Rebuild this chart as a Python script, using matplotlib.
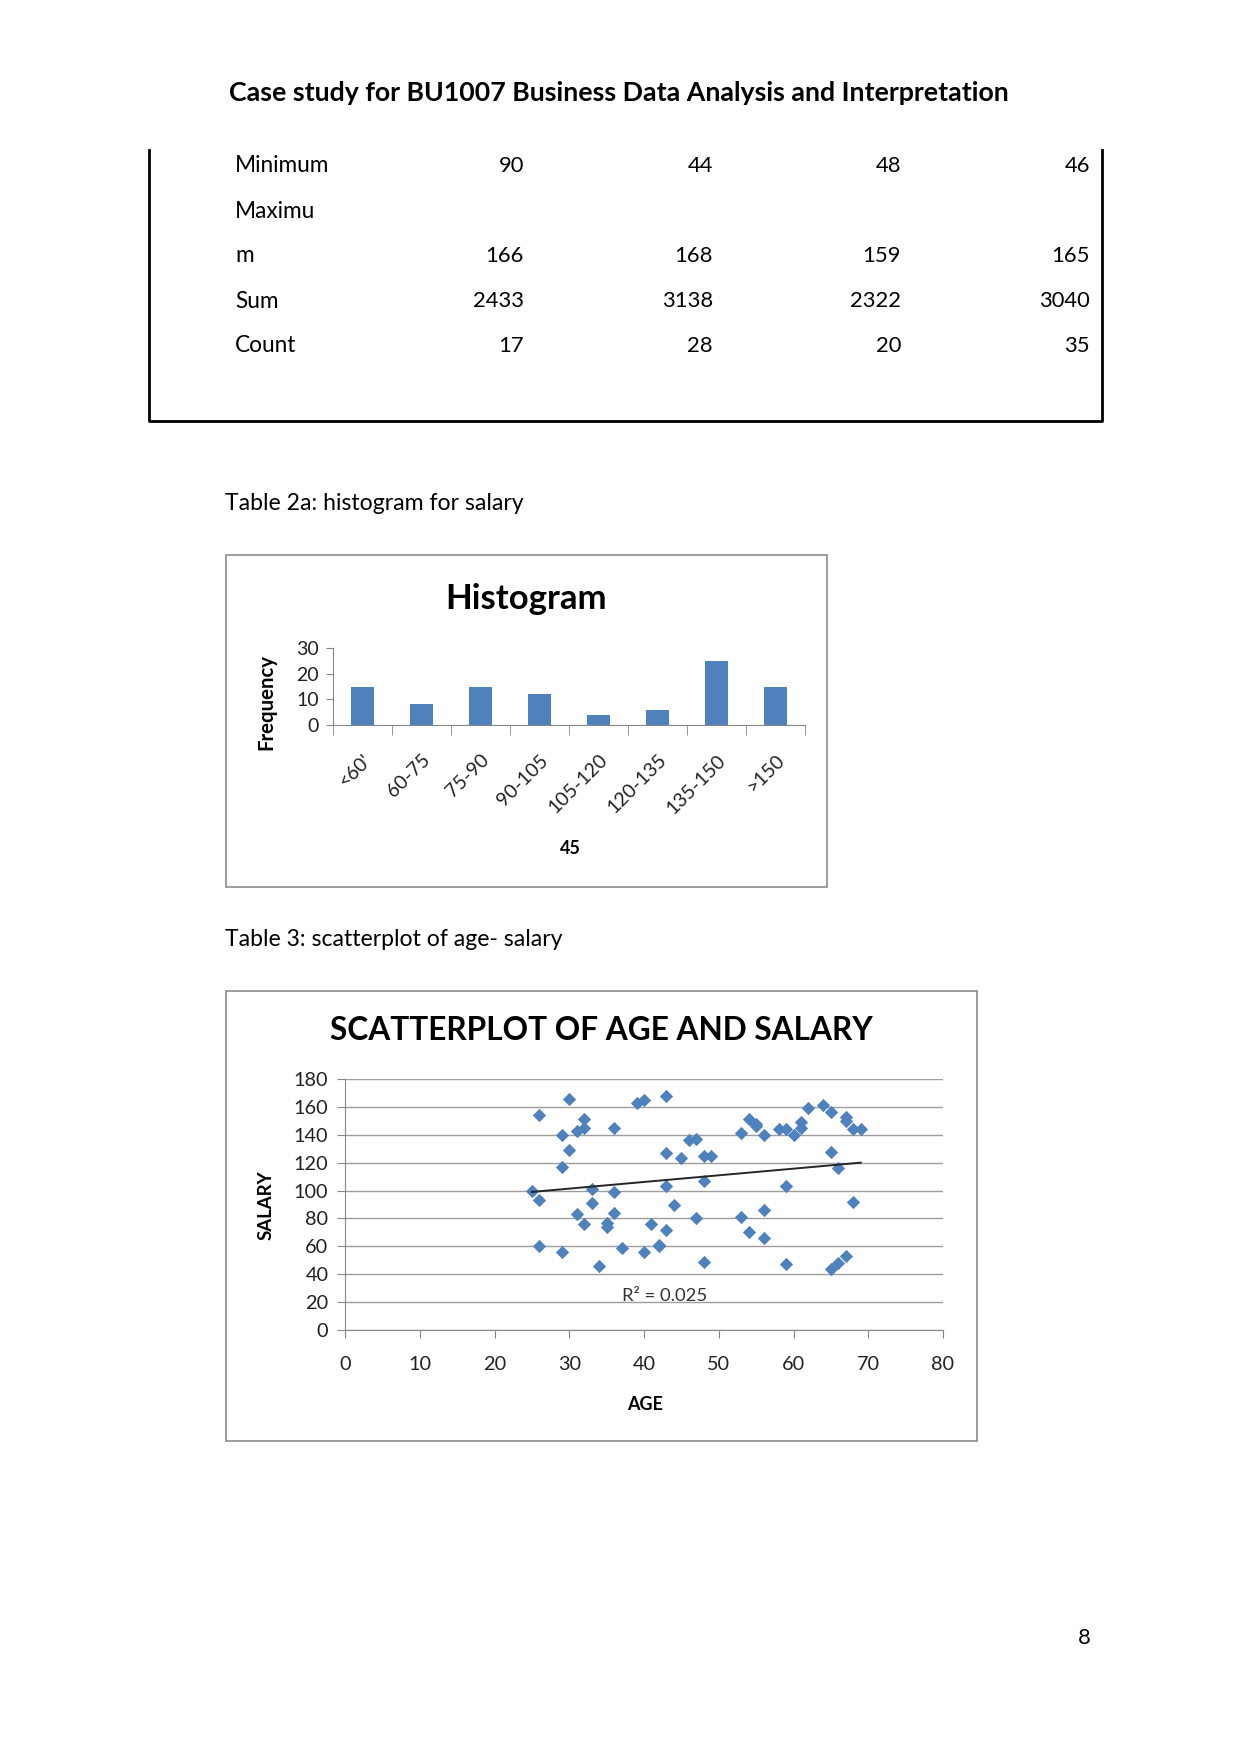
import matplotlib
matplotlib.use("Agg")
import matplotlib.pyplot as plt
from matplotlib.patches import Rectangle
from matplotlib.lines import Line2D
from matplotlib.ticker import FixedLocator, NullFormatter

plt.rcParams['font.family'] = ['Lato', 'DejaVu Sans']

# ---------------- data ----------------
heading = "Case study for BU1007 Business Data Analysis and Interpretation"
table_labels = ["Minimum", "Maximu", "m", "Sum", "Count"]
table_values = [["90", "44", "48", "46"],
                ["", "", "", ""],
                ["166", "168", "159", "165"],
                ["2433", "3138", "2322", "3040"],
                ["17", "28", "20", "35"]]

hist_bins = ["<60'", "60-75", "75-90", "90-105", "105-120", "120-135", "135-150", ">150"]
hist_freq = [15, 8, 15, 12, 4, 6, 25, 15]

age = [25, 26, 26, 26, 29, 29, 29, 30, 30, 31, 31, 32, 32, 32, 33, 33, 34, 35, 35,
       36, 36, 36, 37, 39, 40, 40, 41, 42, 42, 43, 43, 43, 43, 44, 45, 46, 47, 47,
       48, 48, 48, 49, 53, 53, 54, 54, 55, 55, 56, 56, 56, 58, 59, 59, 59, 60, 61,
       61, 62, 64, 65, 65, 65, 66, 66, 67, 67, 67, 68, 68, 69]
salary = [100, 154, 93, 60, 140, 117, 56, 166, 129, 143, 83, 151, 145, 76, 101, 91, 46, 77, 74,
          145, 99, 84, 59, 163, 165, 56, 76, 60, 61, 168, 127, 103, 72, 90, 123, 136, 137, 80,
          125, 107, 49, 125, 141, 81, 151, 70, 148, 146, 140, 86, 66, 144, 144, 103, 47, 140, 145,
          149, 159, 161, 156, 128, 44, 116, 48, 153, 150, 53, 144, 92, 144]
trend_age = [25, 69]
trend_salary = [99, 120]
r2_label = "R² = 0.025"

W, H = 1241, 1754
fig = plt.figure(figsize=(W / 100, H / 100), dpi=100)


def fx(x):
    return x / W


def fy(y):
    return 1 - y / H


def add_axes_px(left, top, right, bottom):
    return fig.add_axes([fx(left), fy(bottom), (right - left) / W, (bottom - top) / H])


# ---------------- header & table ----------------
fig.text(fx(619), fy(93), heading, ha='center', va='center', fontsize=19.3, fontweight='bold')

fig.add_artist(Line2D([fx(149), fx(149), fx(1102), fx(1102)],
                      [fy(150), fy(421), fy(421), fy(150)], color='black', lw=2,
                      transform=fig.transFigure))

row_y = [166, 211, 256, 301, 346]
col_x = [524, 713, 901, 1090]
for lab, vals, y in zip(table_labels, table_values, row_y):
    fig.text(fx(235), fy(y), lab, ha='left', va='center', fontsize=16.3)
    for v, x in zip(vals, col_x):
        if v:
            fig.text(fx(x), fy(y), v, ha='right', va='center', fontsize=15.8)

fig.text(fx(225), fy(504), "Table 2a: histogram for salary", ha='left', va='center', fontsize=16.6)
fig.text(fx(225), fy(940), "Table 3: scatterplot of age- salary", ha='left', va='center', fontsize=16.6)
fig.text(fx(1084), fy(1638), "8", ha='center', va='center', fontsize=15.8)

# ---------------- chart boxes ----------------
for (l, t, r, b) in [(226, 555, 827, 887), (226, 991, 977, 1441)]:
    fig.add_artist(Rectangle((fx(l), fy(b)), (r - l) / W, (b - t) / H, fill=False,
                             edgecolor='#8c8c8c', lw=1.2, transform=fig.transFigure))

blue = '#4F81BD'
axis_gray = '#868686'

# ---------------- histogram ----------------
axh = add_axes_px(333, 648, 805, 725)
pos = list(range(len(hist_bins)))
axh.bar(pos, hist_freq, width=0.4, color=blue)
axh.set_xlim(-0.5, len(hist_bins) - 0.5)
axh.set_ylim(0, 30)
axh.set_yticks([0, 10, 20, 30])
axh.set_xticks(pos)
axh.set_xticklabels(hist_bins, rotation=45, ha='right', va='top', rotation_mode='anchor')
axh.xaxis.set_minor_locator(FixedLocator([p - 0.5 for p in pos] + [len(pos) - 0.5]))
axh.xaxis.set_minor_formatter(NullFormatter())
axh.tick_params(axis='x', which='major', length=0, pad=19, labelsize=14, labelcolor='#222222')
axh.tick_params(axis='x', which='minor', length=7, color=axis_gray, direction='out')
axh.tick_params(axis='y', length=5, color=axis_gray, pad=5, labelsize=14, labelcolor='#222222')
for s in ['top', 'right']:
    axh.spines[s].set_visible(False)
for s in ['left', 'bottom']:
    axh.spines[s].set_color(axis_gray)
fig.text(fx(526), fy(599), "Histogram", ha='center', va='center', fontsize=25, fontweight='bold')
fig.text(fx(266), fy(702), "Frequency", ha='center', va='center', rotation=90, fontsize=14.7,
         fontweight='bold')
fig.text(fx(570), fy(848), "45", ha='center', va='center', fontsize=13, fontweight='bold')

# ---------------- scatter ----------------
axs = add_axes_px(345, 1079, 943, 1330)
axs.set_xlim(0, 80)
axs.set_ylim(0, 180)
axs.set_xticks(range(0, 81, 10))
axs.set_yticks(range(0, 181, 20))
axs.yaxis.grid(True, color='#9d9d9d', lw=1)
axs.set_axisbelow(True)
axs.scatter(age, salary, marker='D', s=46, color=blue, linewidths=0, zorder=3)
axs.plot(trend_age, trend_salary, color='#262626', lw=1.4, zorder=4)
axs.text(42.7, 24.5, r2_label, ha='center', va='center', fontsize=13.3, color='#333333')
axs.tick_params(axis='x', length=6, color=axis_gray, pad=13, labelsize=14.3, labelcolor='#222222')
axs.tick_params(axis='y', length=6, color=axis_gray, pad=6, labelsize=14.3, labelcolor='#222222')
for s in ['top', 'right']:
    axs.spines[s].set_visible(False)
for s in ['left', 'bottom']:
    axs.spines[s].set_color(axis_gray)
fig.text(fx(601), fy(1031), "SCATTERPLOT OF AGE AND SALARY", ha='center', va='center',
         fontsize=22.8, fontweight='bold')
fig.text(fx(645), fy(1404), "AGE", ha='center', va='center', fontsize=13, fontweight='bold')
fig.text(fx(266), fy(1205), "SALARY", ha='center', va='center', rotation=90, fontsize=13.4,
         fontweight='bold')

fig.savefig("out.png", dpi=100, facecolor='white')
